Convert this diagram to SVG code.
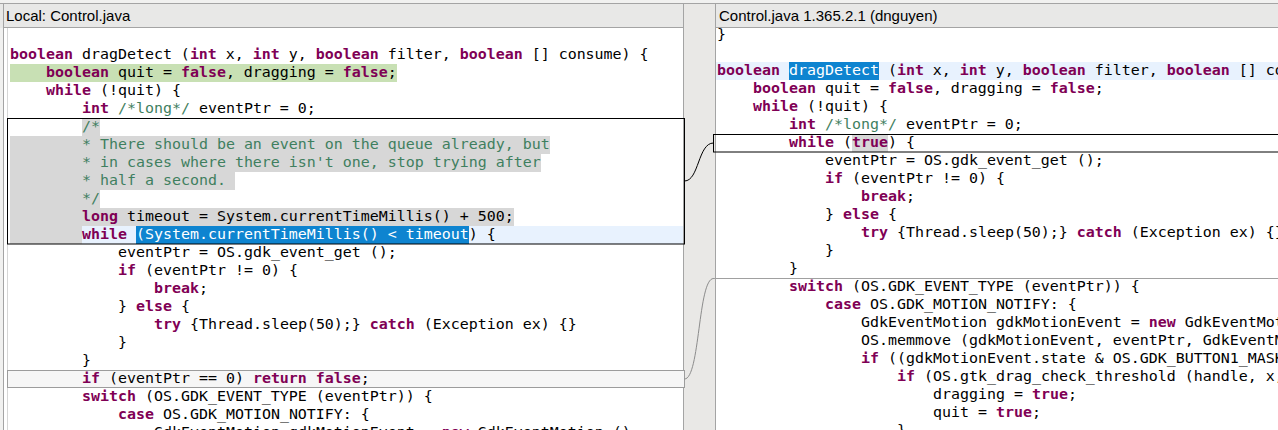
<svg xmlns="http://www.w3.org/2000/svg" width="1278" height="430" viewBox="0 0 1278 430">
<style>
.hdr{font-family:"Liberation Sans",Arial,sans-serif;font-size:15px;fill:#000}
.code{font-family:"DejaVu Sans Mono","Liberation Mono",monospace;font-size:14.95px;fill:#000}
.k{font-weight:bold;fill:#7f0055}
.c{fill:#3f7f5f}
.w{fill:#fff}
.diff{fill:#d7d7d7}
.sel{fill:#0e84d0}
.cur{fill:#e8f2fe}
.sep{stroke:#a4a4a4;stroke-width:1;fill:none}
</style>
<rect x="0" y="0" width="1278" height="430" fill="#fff"/>
<!-- header -->
<g id="header">
<rect x="0" y="0" width="1278" height="4" fill="#f1f1f0"/>
<rect x="0" y="4" width="1278" height="24" fill="#e8e8e7"/>
<line x1="0" y1="3.5" x2="1278" y2="3.5" class="sep"/>
<line x1="3" y1="27.5" x2="683" y2="27.5" class="sep"/>
<line x1="716" y1="27.5" x2="1278" y2="27.5" class="sep"/>
<text class="hdr" x="6" y="21">Local: Control.java</text>
<text class="hdr" x="719" y="21">Control.java 1.365.2.1 (dnguyen)</text>
</g>
<!-- left border and gutter -->
<g id="frame">
<rect x="0" y="28" width="3" height="402" fill="#f1f1f0"/>
<line x1="3.5" y1="4" x2="3.5" y2="430" class="sep"/>
<line x1="7.5" y1="28" x2="7.5" y2="430" stroke="#d6d6d6"/>
<rect x="683" y="4" width="33" height="426" fill="#e9e8e6"/>
<line x1="683.5" y1="4" x2="683.5" y2="430" class="sep"/>
<line x1="715.5" y1="4" x2="715.5" y2="430" class="sep"/>
</g>
<!-- left pane highlights -->
<g id="left-highlights">
<rect x="10" y="64" width="387" height="18" fill="#c8e0b4"/>
<rect x="82" y="118" width="18" height="18" class="diff"/>
<rect x="10" y="136" width="540" height="18" class="diff"/>
<rect x="10" y="154" width="531" height="18" class="diff"/>
<rect x="10" y="172" width="225" height="18" class="diff"/>
<rect x="10" y="190" width="90" height="18" class="diff"/>
<rect x="10" y="208" width="504" height="18" class="diff"/>
<rect x="82" y="226" width="601" height="18" class="cur"/>
<rect x="10" y="226" width="72" height="18" class="diff"/>
<rect x="136" y="226" width="333" height="18" class="sel"/>
</g>
<!-- left change nodes -->
<g id="left-change-1">
<rect x="7.5" y="118.5" width="677" height="125.5" fill="none" stroke="#000"/>
</g>
<g id="left-change-2">
<rect x="7.5" y="370.5" width="677" height="17" fill="#f6f6f6" stroke="#9c9c9c"/>
</g>
<!-- left code -->
<g id="left-code" class="code" xml:space="preserve">
<text x="10" y="59"><tspan class="k">boolean</tspan> dragDetect (<tspan class="k">int</tspan> x, <tspan class="k">int</tspan> y, <tspan class="k">boolean</tspan> filter, <tspan class="k">boolean</tspan> [] consume) {</text>
<text x="46" y="77"><tspan class="k">boolean</tspan> quit = <tspan class="k">false</tspan>, dragging = <tspan class="k">false</tspan>;</text>
<text x="46" y="95"><tspan class="k">while</tspan> (!quit) {</text>
<text x="82" y="113"><tspan class="k">int</tspan> <tspan class="c">/*long*/</tspan> eventPtr = 0;</text>
<text x="82" y="131" class="c">/*</text>
<text x="82" y="149" class="c">* There should be an event on the queue already, but</text>
<text x="82" y="167" class="c">* in cases where there isn't one, stop trying after</text>
<text x="82" y="185" class="c">* half a second. </text>
<text x="82" y="203" class="c">*/</text>
<text x="82" y="221"><tspan class="k">long</tspan> timeout = System.currentTimeMillis() + 500;</text>
<text x="82" y="239"><tspan class="k">while</tspan> <tspan class="w">(System.currentTimeMillis() &lt; timeout</tspan>) {</text>
<text x="118" y="257">eventPtr = OS.gdk_event_get ();</text>
<text x="118" y="275"><tspan class="k">if</tspan> (eventPtr != 0) {</text>
<text x="154" y="293"><tspan class="k">break</tspan>;</text>
<text x="118" y="311">} <tspan class="k">else</tspan> {</text>
<text x="154" y="329"><tspan class="k">try</tspan> {Thread.sleep(50);} <tspan class="k">catch</tspan> (Exception ex) {}</text>
<text x="118" y="347">}</text>
<text x="82" y="365">}</text>
<text x="82" y="383"><tspan class="k">if</tspan> (eventPtr == 0) <tspan class="k">return</tspan> <tspan class="k">false</tspan>;</text>
<text x="82" y="401"><tspan class="k">switch</tspan> (OS.GDK_EVENT_TYPE (eventPtr)) {</text>
<text x="118" y="419"><tspan class="k">case</tspan> OS.GDK_MOTION_NOTIFY: {</text>
<text x="154" y="437">GdkEventMotion gdkMotionEvent = <tspan class="k">new</tspan> GdkEventMotion ();</text>
</g>
<!-- right pane highlights -->
<g id="right-highlights">
<rect x="716" y="62" width="562" height="18" class="cur"/>
<rect x="789" y="62" width="90" height="18" class="sel"/>
<rect x="852" y="135" width="36" height="17" class="diff"/>
</g>
<!-- right change nodes -->
<g id="right-change-1">
<rect x="713.5" y="134.5" width="600" height="17.5" fill="none" stroke="#000"/>
</g>
<g id="right-change-2">
<line x1="713" y1="278.5" x2="1278" y2="278.5" stroke="#a0a0a0"/>
</g>
<!-- right code -->
<g id="right-code" class="code" xml:space="preserve">
<text x="717" y="39">}</text>
<text x="717" y="75"><tspan class="k">boolean</tspan> <tspan class="w">dragDetect</tspan> (<tspan class="k">int</tspan> x, <tspan class="k">int</tspan> y, <tspan class="k">boolean</tspan> filter, <tspan class="k">boolean</tspan> [] co</text>
<text x="753" y="93"><tspan class="k">boolean</tspan> quit = <tspan class="k">false</tspan>, dragging = <tspan class="k">false</tspan>;</text>
<text x="753" y="111"><tspan class="k">while</tspan> (!quit) {</text>
<text x="789" y="129"><tspan class="k">int</tspan> <tspan class="c">/*long*/</tspan> eventPtr = 0;</text>
<text x="789" y="147"><tspan class="k">while</tspan> (<tspan class="k">true</tspan>) {</text>
<text x="825" y="165">eventPtr = OS.gdk_event_get ();</text>
<text x="825" y="183"><tspan class="k">if</tspan> (eventPtr != 0) {</text>
<text x="861" y="201"><tspan class="k">break</tspan>;</text>
<text x="825" y="219">} <tspan class="k">else</tspan> {</text>
<text x="861" y="237"><tspan class="k">try</tspan> {Thread.sleep(50);} <tspan class="k">catch</tspan> (Exception ex) {}</text>
<text x="825" y="255">}</text>
<text x="789" y="273">}</text>
<text x="789" y="291"><tspan class="k">switch</tspan> (OS.GDK_EVENT_TYPE (eventPtr)) {</text>
<text x="825" y="309"><tspan class="k">case</tspan> OS.GDK_MOTION_NOTIFY: {</text>
<text x="861" y="327">GdkEventMotion gdkMotionEvent = <tspan class="k">new</tspan> GdkEventMot</text>
<text x="861" y="345">OS.memmove (gdkMotionEvent, eventPtr, GdkEventM</text>
<text x="861" y="363"><tspan class="k">if</tspan> ((gdkMotionEvent.state &amp; OS.GDK_BUTTON1_MASK</text>
<text x="897" y="381"><tspan class="k">if</tspan> (OS.gtk_drag_check_threshold (handle, x,</text>
<text x="933" y="399">dragging = <tspan class="k">true</tspan>;</text>
<text x="933" y="417">quit = <tspan class="k">true</tspan>;</text>
<text x="897" y="435">}</text>
</g>
<!-- connectors -->
<g id="connectors" fill="none">
<path d="M684.5,181 C699,181 698,143 713.5,143" stroke="#000"/>
<path d="M684.5,379 C700,379 698,278.5 713.5,278.5" stroke="#8c8c8c"/>
</g>
</svg>
